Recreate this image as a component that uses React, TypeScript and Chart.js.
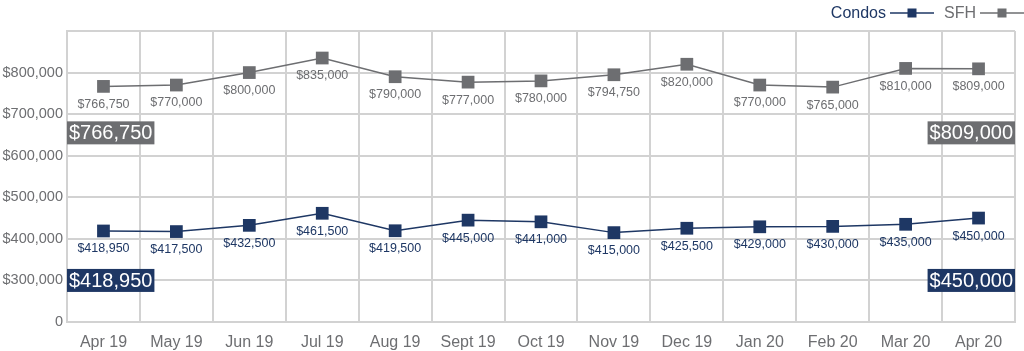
import React, { useEffect, useRef } from "react";
import { Chart, registerables } from "chart.js";

Chart.register(...registerables);

const categories = ["Apr 19", "May 19", "Jun 19", "Jul 19", "Aug 19", "Sept 19", "Oct 19", "Nov 19", "Dec 19", "Jan 20", "Feb 20", "Mar 20", "Apr 20"];
const condos = [418950, 417500, 432500, 461500, 419500, 445000, 441000, 415000, 425500, 429000, 430000, 435000, 450000];
const sfh = [766750, 770000, 800000, 835000, 790000, 777000, 780000, 794750, 820000, 770000, 765000, 810000, 809000];
const yTickLabels = ["0", "$300,000", "$400,000", "$500,000", "$600,000", "$700,000", "$800,000", ""];

const NAVY = "#1e3764";
const GRAY = "#6d6e71";
const GRID = "#d2d2d2";
const FONT = "'Liberation Sans', Arial, sans-serif";

const fmt = (v: number) => "$" + v.toLocaleString("en-US");

const labelsPlugin = {
  id: "pointLabels",
  afterDatasetsDraw(chart: any) {
    const ctx = chart.ctx;
    ctx.save();
    ctx.font = `12.5px ${FONT}`;
    ctx.textAlign = "center";
    ctx.textBaseline = "middle";
    chart.data.datasets.forEach((ds: any, i: number) => {
      const meta = chart.getDatasetMeta(i);
      ctx.fillStyle = ds.borderColor;
      meta.data.forEach((pt: any, j: number) => {
        ctx.fillText(fmt(ds.data[j]), pt.x, pt.y + 18);
      });
    });
    ctx.restore();
  },
};

const boxPlugin = {
  id: "endBoxes",
  afterDatasetsDraw(chart: any) {
    const ctx = chart.ctx;
    const area = chart.chartArea;
    const yScale = chart.scales.y;
    ctx.save();
    ctx.font = `20px ${FONT}`;
    ctx.textBaseline = "middle";
    const anchors = [300000, 655000];
    chart.data.datasets.forEach((ds: any, i: number) => {
      const cy = yScale.getPixelForValue(anchors[i]);
      const vals = [ds.data[0], ds.data[ds.data.length - 1]];
      vals.forEach((v: number, k: number) => {
        const txt = fmt(v);
        const w = ctx.measureText(txt).width + 4;
        const h = 23;
        const x = k === 0 ? area.left : area.right - w;
        ctx.fillStyle = ds.borderColor;
        ctx.fillRect(x, cy - h / 2, w, h);
        ctx.fillStyle = "#ffffff";
        ctx.textAlign = "center";
        ctx.fillText(txt, x + w / 2, cy + 1);
      });
    });
    ctx.restore();
  },
};

const legendPlugin = {
  id: "customLegend",
  afterDraw(chart: any) {
    const ctx = chart.ctx;
    ctx.save();
    ctx.font = `16px ${FONT}`;
    ctx.textBaseline = "middle";
    const y = 13;
    let right = chart.width;
    const items = [...chart.data.datasets].reverse();
    items.forEach((ds: any) => {
      const lineLen = 44;
      const lx0 = right - lineLen;
      ctx.strokeStyle = ds.borderColor;
      ctx.lineWidth = 1.5;
      ctx.beginPath();
      ctx.moveTo(lx0, y);
      ctx.lineTo(right, y);
      ctx.stroke();
      ctx.fillStyle = ds.borderColor;
      ctx.fillRect(lx0 + lineLen / 2 - 4.5, y - 4.5, 9, 9);
      const tw = ctx.measureText(ds.label).width;
      ctx.textAlign = "left";
      ctx.fillText(ds.label, lx0 - 4 - tw, y + 1);
      right = lx0 - 4 - tw - 10;
    });
    ctx.restore();
  },
};

export default function App() {
  const ref = useRef<HTMLCanvasElement>(null);
  useEffect(() => {
    document.body.style.margin = "0";
    const canvas = ref.current!;
    const chart = new Chart(canvas, {
      type: "line",
      data: {
        labels: categories,
        datasets: [
          {
            label: "Condos",
            data: condos,
            borderColor: NAVY,
            backgroundColor: NAVY,
            borderWidth: 1.5,
            pointStyle: "rect",
            pointRadius: 9,
            pointBorderWidth: 0,
            tension: 0,
          },
          {
            label: "SFH",
            data: sfh,
            borderColor: GRAY,
            backgroundColor: GRAY,
            borderWidth: 1.5,
            pointStyle: "rect",
            pointRadius: 9,
            pointBorderWidth: 0,
            tension: 0,
          },
        ],
      },
      options: {
        responsive: false,
        animation: false,
        layout: { padding: { top: 31, right: 2, left: 0, bottom: 0 } },
        plugins: { legend: { display: false }, tooltip: { enabled: false } },
        scales: {
          x: {
            offset: true,
            grid: { offset: true, color: GRID, lineWidth: 2, drawTicks: false },
            border: { display: true, color: GRID, width: 2 },
            ticks: { color: GRAY, font: { size: 16, family: FONT }, padding: 11 },
            afterFit: (s: any) => { s.height = 29; },
          },
          y: {
            min: 200000,
            max: 900000,
            grid: { color: GRID, lineWidth: 2, drawTicks: false },
            border: { display: true, color: GRID, width: 2 },
            ticks: {
              stepSize: 100000,
              color: GRAY,
              font: { size: 14.5, family: FONT },
              padding: 4,
              callback: (_v: any, i: number) => yTickLabels[i],
            },
            afterFit: (s: any) => { s.width = 67; },
          },
        },
      },
      plugins: [labelsPlugin, boxPlugin, legendPlugin],
    });
    return () => chart.destroy();
  }, []);
  return (
    <div style={{ width: 1024, height: 351 }}>
      <canvas ref={ref} width={1024} height={351} />
    </div>
  );
}
